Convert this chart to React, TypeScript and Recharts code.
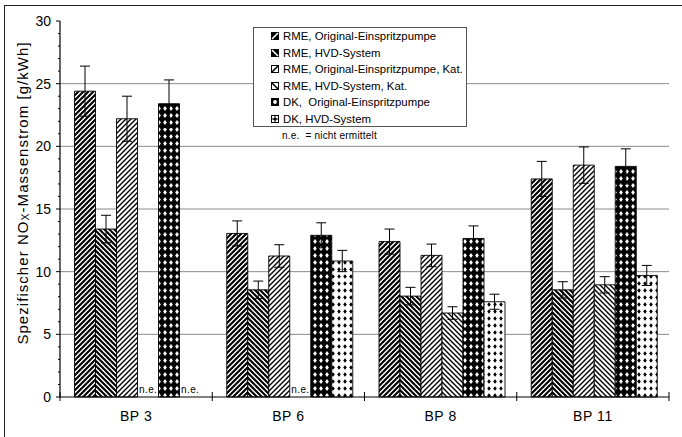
import React from 'react';
import { BarChart, Bar, XAxis, YAxis, CartesianGrid, ErrorBar, Legend } from 'recharts';

const categories = ['BP 3', 'BP 6', 'BP 8', 'BP 11'];
const rmeOriginal = [24.4, 13.05, 12.4, 17.4];
const rmeOriginalErr = [2.0, 1.0, 1.0, 1.4];
const rmeHvd = [13.4, 8.55, 8.05, 8.55];
const rmeHvdErr = [1.1, 0.7, 0.7, 0.65];
const rmeOriginalKat = [22.2, 11.25, 11.3, 18.5];
const rmeOriginalKatErr = [1.8, 0.9, 0.9, 1.45];
const rmeHvdKat = [null, null, 6.7, 8.95];
const rmeHvdKatErr = [null, null, 0.5, 0.65];
const dkOriginal = [23.4, 12.9, 12.65, 18.4];
const dkOriginalErr = [1.9, 1.0, 1.0, 1.4];
const dkHvd = [null, 10.85, 7.6, 9.7];
const dkHvdErr = [null, 0.85, 0.6, 0.8];

const seriesNames = [
  'RME, Original-Einspritzpumpe',
  'RME, HVD-System',
  'RME, Original-Einspritzpumpe, Kat.',
  'RME, HVD-System, Kat.',
  'DK,  Original-Einspritzpumpe',
  'DK, HVD-System',
];
const yTicks = [0, 1, 2, 3, 4, 5, 6, 7, 8, 9, 10, 11, 12, 13, 14, 15, 16, 17, 18, 19, 20, 21, 22, 23, 24, 25, 26, 27, 28, 29, 30];
const yMajorTicks = [0, 5, 10, 15, 20, 25, 30];
const gridValues = [5, 10, 15, 20, 25];
const notDeterminedLabel = 'n.e.';
const noteText = 'n.e.  = nicht ermittelt';
const yTitleMain = 'Spezifischer NO';
const yTitleSub = 'X';
const yTitleRest = '-Massenstrom [g/kWh]';

const data = categories.map((name, i) => ({
  name,
  rmeOriginal: rmeOriginal[i],
  rmeOriginalErr: rmeOriginalErr[i],
  rmeHvd: rmeHvd[i],
  rmeHvdErr: rmeHvdErr[i],
  rmeOriginalKat: rmeOriginalKat[i],
  rmeOriginalKatErr: rmeOriginalKatErr[i],
  rmeHvdKat: rmeHvdKat[i],
  rmeHvdKatErr: rmeHvdKatErr[i],
  dkOriginal: dkOriginal[i],
  dkOriginalErr: dkOriginalErr[i],
  dkHvd: dkHvd[i],
  dkHvdErr: dkHvdErr[i],
}));

const series = [
  { key: 'rmeOriginal', err: 'rmeOriginalErr', fill: 'url(#pUpDark)', icon: 'upDark' },
  { key: 'rmeHvd', err: 'rmeHvdErr', fill: 'url(#pDownDark)', icon: 'downDark' },
  { key: 'rmeOriginalKat', err: 'rmeOriginalKatErr', fill: 'url(#pUpLight)', icon: 'upLight' },
  { key: 'rmeHvdKat', err: 'rmeHvdKatErr', fill: 'url(#pDownLight)', icon: 'downLight' },
  { key: 'dkOriginal', err: 'dkOriginalErr', fill: 'url(#pDotsBlack)', icon: 'dotsBlack' },
  { key: 'dkHvd', err: 'dkHvdErr', fill: 'url(#pDotsWhite)', icon: 'dotsWhite' },
];

const FONT = "'Liberation Sans', Arial, Helvetica, sans-serif";

const YTick = (props: any) => {
  const { x, y, payload } = props;
  const major = yMajorTicks.includes(payload.value);
  return (
    <g>
      <line x1={x - (major ? 4 : 2)} x2={x} y1={y} y2={y} stroke="#000" strokeWidth={1} />
      {major && (
        <text x={x - 9} y={y} dy="0.36em" textAnchor="end" fontSize={14} fontFamily={FONT} fill="#000">
          {payload.value}
        </text>
      )}
    </g>
  );
};

const XTick = (props: any) => {
  const { x, y, payload, index, visibleTicksCount } = props;
  const off = payload && typeof payload.offset === 'number' ? payload.offset : 0;
  return (
    <g>
      <line x1={x - off} x2={x - off} y1={y - 5} y2={y + 4} stroke="#000" strokeWidth={1} />
      {index === visibleTicksCount - 1 && (
        <line x1={x + off} x2={x + off} y1={y - 5} y2={y + 4} stroke="#000" strokeWidth={1} />
      )}
      <text x={x} y={y + 24} textAnchor="middle" fontSize={14} letterSpacing={0.6} fontFamily={FONT} fill="#000">
        {payload.value}
      </text>
    </g>
  );
};

// "n.e." is written into the empty slot that follows a drawn bar, using that bar's computed rectangle.
const makeNeLabel = (seriesIndex: number) => (props: any) => {
  const { x, y, width, height, index } = props;
  const next = series[seriesIndex + 1];
  if (!next || typeof x !== 'number' || typeof index !== 'number') return null;
  const nextVal = (data[index] as any)[next.key];
  if (nextVal !== null && nextVal !== undefined) return null;
  const base = y + (typeof height === 'number' ? height : 0);
  return (
    <text x={x + width + 1.5} y={base - 4} fontSize={10} letterSpacing={0.4} fontFamily={FONT} fill="#000">
      {notDeterminedLabel}
    </text>
  );
};

const YTitle = (props: any) => {
  const vb = props.viewBox || { x: 0, y: 21, width: 60, height: 376 };
  const cx = vb.x + 22;
  const cy = vb.y + vb.height / 2 - 16;
  return (
    <text
      x={cx}
      y={cy}
      transform={`rotate(-90, ${cx}, ${cy})`}
      textAnchor="middle"
      dominantBaseline="central"
      fontSize={15}
      letterSpacing={1.05}
      fontFamily={FONT}
      fill="#000"
    >
      {yTitleMain}
      <tspan dy={3} fontSize={10.5}>{yTitleSub}</tspan>
      <tspan dy={-3}>{yTitleRest}</tspan>
    </text>
  );
};

const LegendIcon = ({ kind }: { kind: string }) => {
  const s = 8;
  let inner: any = null;
  if (kind === 'upDark') {
    inner = (
      <>
        <rect x={0} y={0} width={s} height={s} fill="#000" />
        <line x1={1} y1={7} x2={7} y2={1} stroke="#fff" strokeWidth={1.6} />
      </>
    );
  } else if (kind === 'downDark') {
    inner = (
      <>
        <rect x={0} y={0} width={s} height={s} fill="#000" />
        <line x1={1} y1={1} x2={7} y2={7} stroke="#fff" strokeWidth={1.6} />
      </>
    );
  } else if (kind === 'upLight') {
    inner = (
      <>
        <rect x={0.5} y={0.5} width={7} height={7} fill="#fff" stroke="#000" strokeWidth={1} />
        <line x1={1} y1={7} x2={7} y2={1} stroke="#000" strokeWidth={1.6} />
      </>
    );
  } else if (kind === 'downLight') {
    inner = (
      <>
        <rect x={0.5} y={0.5} width={7} height={7} fill="#fff" stroke="#000" strokeWidth={1} />
        <line x1={1} y1={1} x2={7} y2={7} stroke="#000" strokeWidth={1.6} />
      </>
    );
  } else if (kind === 'dotsBlack') {
    inner = (
      <>
        <rect x={0} y={0} width={s} height={s} fill="#000" />
        <circle cx={4} cy={4} r={1.9} fill="#fff" />
      </>
    );
  } else {
    inner = (
      <>
        <rect x={0.5} y={0.5} width={7} height={7} fill="#fff" stroke="#000" strokeWidth={1} />
        <line x1={4} y1={1} x2={4} y2={7} stroke="#000" strokeWidth={1} />
        <line x1={1} y1={4} x2={7} y2={4} stroke="#000" strokeWidth={1} />
        <circle cx={4} cy={4} r={1.6} fill="#000" />
      </>
    );
  }
  return (
    <svg width={s} height={s} style={{ display: 'block', flex: 'none' }}>
      {inner}
    </svg>
  );
};

const LegendContent = () => (
  <div style={{ fontFamily: FONT }}>
    <div
      style={{
        width: 212,
        height: 98,
        border: '1px solid #555',
        background: '#fff',
        boxSizing: 'content-box',
      }}
    >
      {series.map((s, i) => (
        <div
          key={s.key}
          style={{
            display: 'flex',
            alignItems: 'center',
            height: 16.5,
            paddingLeft: 17,
            whiteSpace: 'nowrap',
          }}
        >
          <LegendIcon kind={s.icon} />
          <span style={{ fontSize: 11.4, marginLeft: 4, color: '#000', whiteSpace: 'pre' }}>
            {seriesNames[i]}
          </span>
        </div>
      ))}
    </div>
    <div style={{ fontSize: 10, letterSpacing: 0.2, marginTop: 3, paddingLeft: 29, whiteSpace: 'pre', color: '#000' }}>
      {noteText}
    </div>
  </div>
);

export default function App() {
  return (
    <div style={{ position: 'absolute', left: 0, top: 0, width: 682, height: 437, overflow: 'hidden', background: '#fff' }}>
      <div
        style={{
          position: 'absolute',
          left: 4,
          top: 5,
          width: 800,
          height: 800,
          borderLeft: '1.5px solid #222',
          borderTop: '1.5px solid #222',
        }}
      />
      <div style={{ position: 'absolute', left: 0, top: 0 }}>
        <BarChart
          width={682}
          height={437}
          data={data}
          margin={{ top: 21, right: 13, bottom: 0, left: 0 }}
          barCategoryGap={14.5}
          barGap={0}
        >
          <defs>
            <pattern id="pUpDark" patternUnits="userSpaceOnUse" width="5" height="5">
              <rect width="5" height="5" fill="#fff" />
              <path d="M-1,1 L1,-1 M0,5 L5,0 M4,6 L6,4" stroke="#000" strokeWidth="2.1" />
            </pattern>
            <pattern id="pDownDark" patternUnits="userSpaceOnUse" width="5" height="5">
              <rect width="5" height="5" fill="#fff" />
              <path d="M-1,4 L1,6 M0,0 L5,5 M4,-1 L6,1" stroke="#000" strokeWidth="2.1" />
            </pattern>
            <pattern id="pUpLight" patternUnits="userSpaceOnUse" width="5" height="5">
              <rect width="5" height="5" fill="#fff" />
              <path d="M-1,1 L1,-1 M0,5 L5,0 M4,6 L6,4" stroke="#000" strokeWidth="1.4" />
            </pattern>
            <pattern id="pDownLight" patternUnits="userSpaceOnUse" width="5" height="5">
              <rect width="5" height="5" fill="#fff" />
              <path d="M-1,4 L1,6 M0,0 L5,5 M4,-1 L6,1" stroke="#000" strokeWidth="1.4" />
            </pattern>
            <pattern id="pDotsBlack" patternUnits="userSpaceOnUse" width="6" height="7">
              <rect width="6" height="7" fill="#000" />
              <path d="M3,1 L4.9,3.5 L3,6 L1.1,3.5 Z" fill="#fff" />
            </pattern>
            <pattern id="pDotsWhite" patternUnits="userSpaceOnUse" width="6" height="7">
              <rect width="6" height="7" fill="#fff" />
              <path d="M3,1.2 L4.8,3.5 L3,5.8 L1.2,3.5 Z" fill="#000" />
            </pattern>
          </defs>
          <CartesianGrid vertical={false} horizontalValues={gridValues} stroke="#8a8a8a" strokeWidth={1} />
          <XAxis
            dataKey="name"
            height={40}
            tickLine={false}
            tickSize={0}
            tickMargin={0}
            axisLine={{ stroke: '#000', strokeWidth: 1.2 }}
            tick={<XTick />}
            interval={0}
          />
          <XAxis
            xAxisId="top"
            dataKey="name"
            orientation="top"
            height={0}
            tick={false}
            tickLine={false}
            axisLine={{ stroke: '#000', strokeWidth: 1.2 }}
          />
          <YAxis
            width={60}
            domain={[0, 30]}
            ticks={yTicks}
            interval={0}
            tickLine={false}
            tickSize={0}
            tickMargin={0}
            axisLine={{ stroke: '#000', strokeWidth: 1.2 }}
            tick={<YTick />}
            label={<YTitle />}
          />
          <YAxis
            yAxisId="right"
            orientation="right"
            width={0}
            domain={[0, 30]}
            tick={false}
            tickLine={false}
            axisLine={{ stroke: '#000', strokeWidth: 1.2 }}
          />
          <Legend
            layout="vertical"
            align="center"
            verticalAlign="middle"
            content={<LegendContent />}
            wrapperStyle={{ left: 253, top: 27, width: 260, height: 125 }}
          />
          {series.map((s, i) => (
            <Bar
              key={s.key}
              dataKey={s.key}
              name={seriesNames[i]}
              fill={s.fill}
              stroke="#000"
              strokeWidth={0.9}
              isAnimationActive={false}
              label={makeNeLabel(i)}
            >
              <ErrorBar dataKey={s.err} width={5} stroke="#000" strokeWidth={1} direction="y" />
            </Bar>
          ))}
        </BarChart>
      </div>
    </div>
  );
}
